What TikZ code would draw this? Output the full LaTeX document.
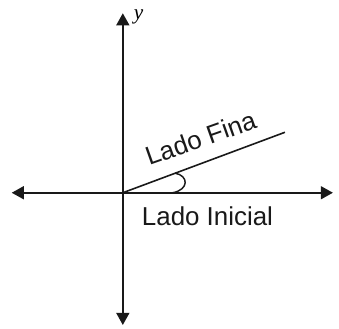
\documentclass[tikz,border=0pt]{standalone}
\usepackage{fontspec}
\setmainfont{Liberation Serif}
\setsansfont{Liberation Sans}
\usepackage{tikz}
\usetikzlibrary{arrows.meta}
\tikzset{
  axis/.style={{Triangle[length=3.2mm,width=3.4mm]}-{Triangle[length=3.2mm,width=3.4mm]}, line width=1.5pt, black!90},
  side/.style={line width=1.2pt, black!90},
  anglemark/.style={line width=1.1pt, black!90},
  sidelbl/.style={font=\sffamily\fontsize{19.5}{22}\selectfont, text=black!90, inner sep=0pt}
}
\begin{document}
\begin{tikzpicture}
\useasboundingbox (-3.25,-3.58) rectangle (5.72,5.10);
% points
\coordinate (O) at (0,0);
\coordinate (W) at (-2.94,0);
\coordinate (E) at (5.56,0);
\coordinate (N) at (0,4.75);
\coordinate (S) at (0,-3.50);
\coordinate (T) at (4.29,1.60);
% axes
\draw[axis] (W) -- (E);
\draw[axis] (S) -- (N);
\node[font=\fontsize{16}{18}\selectfont\itshape, anchor=base, inner sep=0pt] (ylbl) at (0.42,4.58) {y};
% terminal side
\draw[side] (O) -- (T);
% angle
\draw[anglemark] (1.32,0) .. controls (1.75,0.08) and (1.75,0.45) .. (1.38,0.52);
% labels
\node[sidelbl, anchor=base, rotate=19.5] (fina) at (2.14,1.22) {Lado Fina};
\node[sidelbl, anchor=base] (inicial) at (2.24,-0.855) {Lado Inicial};
\end{tikzpicture}
\end{document}
